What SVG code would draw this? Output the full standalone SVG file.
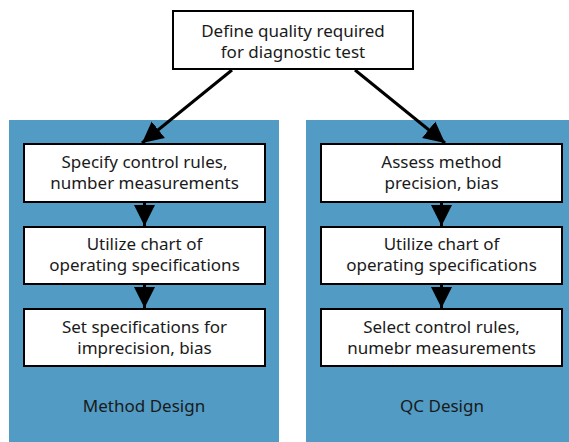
<svg xmlns="http://www.w3.org/2000/svg" width="569" height="442" viewBox="0 0 569 442">
  <style>
    .panel { fill: #519bc4; }
    .box { fill: #ffffff; stroke: #000000; stroke-width: 2; }
    .lbl { font-family: "Noto Sans", "Open Sans", sans-serif; font-size: 17px; fill: #1a1a1a; text-anchor: middle; }
    .edge { stroke: #000000; stroke-width: 3; fill: none; }
  </style>
  <defs>
    <marker id="head" viewBox="0 0 10 10" refX="10" refY="5" markerWidth="7" markerHeight="8" markerUnits="strokeWidth" orient="auto">
      <path d="M0,0 L10,5 L0,10 Z" fill="#000000"/>
    </marker>
  </defs>

  <rect width="569" height="442" fill="#ffffff"/>

  <!-- design panels -->
  <g id="method-design">
    <rect class="panel" x="9" y="120" width="270" height="322"/>
    <text class="lbl" x="144" y="412">Method Design</text>
  </g>
  <g id="qc-design">
    <rect class="panel" x="306" y="120" width="263" height="322"/>
    <text class="lbl" x="442" y="412">QC Design</text>
  </g>

  <!-- connectors -->
  <g id="connectors">
    <line class="edge" x1="232" y1="70" x2="142" y2="143" marker-end="url(#head)"/>
    <line class="edge" x1="355" y1="70" x2="445" y2="143" marker-end="url(#head)"/>
    <line class="edge" x1="144.5" y1="202" x2="144.5" y2="226" marker-end="url(#head)"/>
    <line class="edge" x1="144.5" y1="284" x2="144.5" y2="308" marker-end="url(#head)"/>
    <line class="edge" x1="441.5" y1="202" x2="441.5" y2="226" marker-end="url(#head)"/>
    <line class="edge" x1="441.5" y1="284" x2="441.5" y2="308" marker-end="url(#head)"/>
  </g>

  <!-- top node -->
  <g id="define-quality">
    <rect class="box" x="173" y="11" width="240" height="58"/>
    <text class="lbl" x="293" y="36.5">Define quality required</text>
    <text class="lbl" x="293" y="57.5">for diagnostic test</text>
  </g>

  <!-- method design steps -->
  <g id="specify-rules">
    <rect class="box" x="24" y="144" width="241" height="58"/>
    <text class="lbl" x="144.5" y="168">Specify control rules,</text>
    <text class="lbl" x="144.5" y="189">number measurements</text>
  </g>
  <g id="chart-left">
    <rect class="box" x="24" y="227" width="241" height="57"/>
    <text class="lbl" x="144.5" y="250">Utilize chart of</text>
    <text class="lbl" x="144.5" y="271">operating specifications</text>
  </g>
  <g id="set-specs">
    <rect class="box" x="24" y="309" width="241" height="57"/>
    <text class="lbl" x="144.5" y="333">Set specifications for</text>
    <text class="lbl" x="144.5" y="354">imprecision, bias</text>
  </g>

  <!-- QC design steps -->
  <g id="assess-method">
    <rect class="box" x="321" y="144" width="241" height="58"/>
    <text class="lbl" x="441.5" y="168">Assess method</text>
    <text class="lbl" x="441.5" y="189">precision, bias</text>
  </g>
  <g id="chart-right">
    <rect class="box" x="321" y="227" width="241" height="57"/>
    <text class="lbl" x="441.5" y="250">Utilize chart of</text>
    <text class="lbl" x="441.5" y="271">operating specifications</text>
  </g>
  <g id="select-rules">
    <rect class="box" x="321" y="309" width="241" height="57"/>
    <text class="lbl" x="441.5" y="333">Select control rules,</text>
    <text class="lbl" x="441.5" y="354">numebr measurements</text>
  </g>
</svg>
